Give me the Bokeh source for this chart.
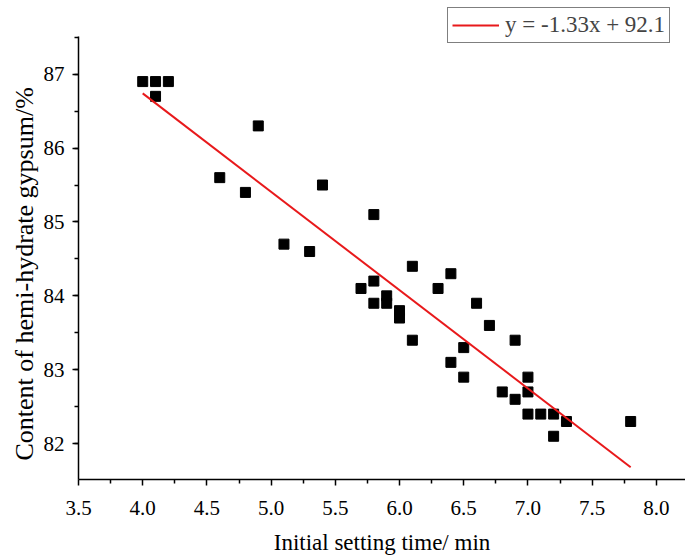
from bokeh.plotting import figure
from bokeh.models import Range1d, Legend, LegendItem, FixedTicker, Title
from bokeh.embed import file_html
from bokeh.resources import INLINE

setting_time = [4.0, 4.1, 4.2, 4.1, 4.9, 4.6, 4.8, 5.4, 5.8, 5.1, 5.3, 6.1, 6.4, 5.7,
                5.8, 6.3, 5.8, 5.9, 5.9, 6.0, 6.0, 6.6, 6.7, 6.1, 6.9, 6.5, 6.4, 6.5,
                7.0, 7.0, 6.8, 6.9, 7.0, 7.1, 7.2, 7.3, 7.2, 7.8]
hemi_content = [86.9, 86.9, 86.9, 86.7, 86.3, 85.6, 85.4, 85.5, 85.1, 84.7, 84.6, 84.4, 84.3, 84.1,
                84.2, 84.1, 83.9, 84.0, 83.9, 83.8, 83.7, 83.9, 83.6, 83.4, 83.4, 83.3, 83.1, 82.9,
                82.9, 82.7, 82.7, 82.6, 82.4, 82.4, 82.4, 82.3, 82.1, 82.3]
fit_x = [4.0, 7.8]
fit_y = [86.74, 81.68]
fit_label = "y = -1.33x + 92.1"
x_ticks = [3.5, 4.0, 4.5, 5.0, 5.5, 6.0, 6.5, 7.0, 7.5, 8.0]
y_ticks = [82, 83, 84, 85, 86, 87]
x_title = "Initial setting time/ min"
y_title = "Content of hemi-hydrate gypsum/%"

FONT = "Liberation Serif"
Y_AXIS_TOP = 87.51
Y_AXIS_BOTTOM = 81.515

p = figure(width=685, height=557, output_backend="svg", toolbar_location=None,
           x_range=Range1d(3.5, 8.227), y_range=Range1d(Y_AXIS_BOTTOM, 87.997),
           min_border_left=78, min_border_right=0, min_border_top=0, min_border_bottom=76)
p.outline_line_color = None
p.xgrid.visible = False
p.ygrid.visible = False
p.background_fill_color = "white"

p.scatter(setting_time, hemi_content, marker="square", size=10, color="black")
r = p.line(fit_x, fit_y, line_color="#e8191b", line_width=2)

for ax in (p.xaxis[0], p.yaxis[0]):
    ax.axis_line_width = 1.5
    ax.axis_line_color = "black"
    ax.major_tick_line_color = "black"
    ax.minor_tick_line_color = "black"
    ax.major_tick_line_width = 1.5
    ax.minor_tick_line_width = 1.5
    ax.major_tick_out = 6
    ax.major_tick_in = 0
    ax.minor_tick_out = 4
    ax.minor_tick_in = 0
    ax.major_label_text_font = FONT
    ax.major_label_text_font_size = "21px"
    ax.major_label_text_color = "black"
    ax.axis_label_text_font = FONT
    ax.axis_label_text_font_style = "normal"
    ax.axis_label_text_color = "black"

p.yaxis.bounds = (Y_AXIS_BOTTOM, Y_AXIS_TOP)
p.xaxis.ticker = FixedTicker(ticks=x_ticks, minor_ticks=[3.75 + 0.5 * i for i in range(10)])
p.yaxis.ticker = FixedTicker(ticks=y_ticks, minor_ticks=[81.5 + 0.5 * i for i in range(13)])
p.xaxis.major_label_overrides = {t: f"{t:.1f}" for t in x_ticks}
p.xaxis.axis_label = x_title
p.xaxis.axis_label_text_font_size = "23px"
p.xaxis.major_label_standoff = 15
p.yaxis.major_label_standoff = 8
p.xaxis.axis_label_standoff = 12

ytitle = Title(text=y_title, align="left", offset=19, text_font=FONT,
               text_font_size="26px", text_font_style="normal", text_color="black",
               standoff=4)
p.add_layout(ytitle, "left")

legend = Legend(items=[LegendItem(label=fit_label, renderers=[r])],
                location=(369, 436), border_line_color="black", border_line_width=1,
                label_text_font=FONT, label_text_font_size="23px",
                glyph_width=47, glyph_height=18, label_standoff=6,
                padding=4, margin=0, spacing=0, label_height=18)
p.add_layout(legend, "center")

open("out.html", "w").write(file_html(p, INLINE))
